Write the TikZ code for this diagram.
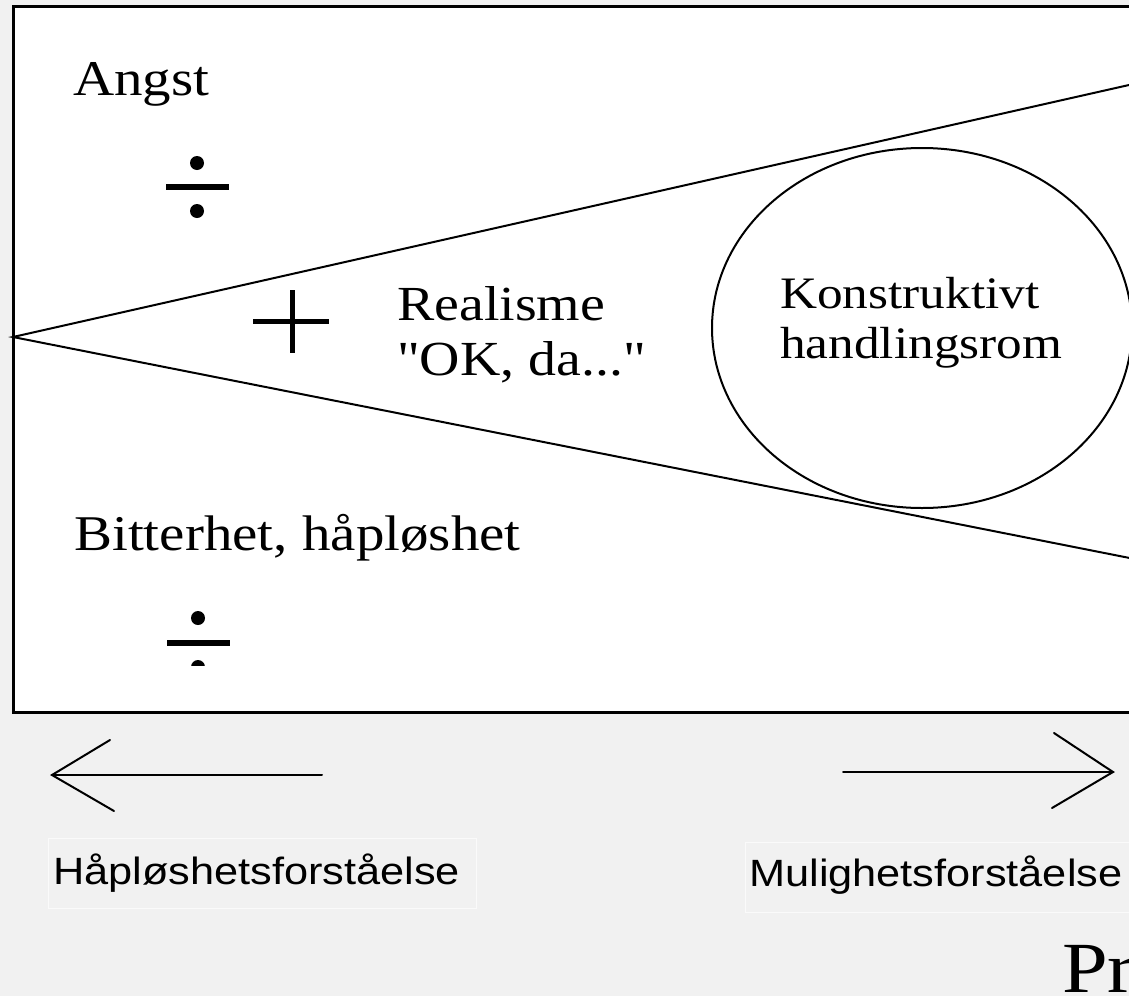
\documentclass[tikz,border=0pt]{standalone}
\usepackage{fontspec}
\usetikzlibrary{shapes.geometric}
\setmainfont{Liberation Serif}
\newfontfamily\wideserif[FakeStretch=1.14]{Liberation Serif}
\newfontfamily\widesans[FakeStretch=1.14]{Liberation Sans}
\definecolor{pagebg}{RGB}{241,241,241}
\definecolor{labelrim}{RGB}{250,250,250}
\tikzset{
  serif/.style={inner sep=0pt, anchor=base west, font=\wideserif\fontsize{#1}{#1}\selectfont},
  twoline/.style 2 args={inner sep=0pt, anchor=base west, align=left,
    font=\wideserif\fontsize{#1}{#2}\selectfont},
  sanslabel/.style={inner sep=0pt, anchor=base west, font=\widesans\fontsize{38}{38}\selectfont},
  labelbox/.style={draw=labelrim, line width=0.8pt, fill=pagebg},
  thin/.style={line width=2pt},
  pointer/.style={line width=2pt, line cap=round},
}
\begin{document}
\begin{tikzpicture}[x=1pt, y=-1pt]
  \useasboundingbox (0,0) rectangle (1129,996);
  \clip (0,0) rectangle (1129,996);
  \fill[pagebg] (0,0) rectangle (1129,996);

  % frame
  \draw[fill=white, line width=3pt] (13,6) rectangle (1160,712);

  % the fan opening to the right
  \coordinate (apex) at (13,337);
  \coordinate (upperend) at (1160,78);
  \coordinate (lowerend) at (1160,564);
  \draw[thin] (upperend) -- (apex) -- (lowerend);

  % space for action
  \node[draw, thin, ellipse, minimum width=420pt, minimum height=360pt, inner sep=0pt] (space) at (922,328) {};
  % multi-line nodes sit on the baseline of their last line
  \node[twoline={45}{50}] (konstr) at (780,358) {Konstruktivt\\handlingsrom};

  % labels
  \node[serif=50] (angst) at (73,95) {Angst};
  \node[serif=50] (bitter) at (74,550) {Bitterhet, håpløshet};
  \node[twoline={49}{55}] (real) at (397,375) {Realisme\\"OK, da..."};

  % minus signs
  \fill (166,184) rectangle (229,190);
  \fill (197,163) circle (7);
  \fill (197,211) circle (7);
  \begin{scope}
    \clip (150,600) rectangle (250,665);
    \fill (167,640) rectangle (230,646);
    \fill (198,618) circle (7);
    \fill (198,667) circle (7);
  \end{scope}

  % plus sign
  \fill (253,319) rectangle (329,323.5);
  \fill (289.5,290) rectangle (294.5,353);

  % direction arrows
  \coordinate (ltail) at (322,775);
  \coordinate (lhead) at (52,775);
  \coordinate (lup) at (110,740);
  \coordinate (llow) at (114,811);
  \draw[pointer] (ltail) -- (lhead);
  \draw[pointer] (lup) -- (lhead) -- (llow);

  \coordinate (rtail) at (843,772);
  \coordinate (rhead) at (1113,772);
  \coordinate (rup) at (1054,733);
  \coordinate (rlow) at (1052,808);
  \draw[pointer] (rtail) -- (rhead);
  \draw[pointer] (rup) -- (rhead) -- (rlow);

  % arrow captions
  \draw[labelbox] (48,838) rectangle (476,908);
  \node[sanslabel] (hopeless) at (53,884) {Håpløshetsforståelse};
  \draw[labelbox] (745,842) rectangle (1160,912);
  \node[sanslabel] (possible) at (749,886) {Mulighetsforståelse};

  % title, running off the right edge
  \node[serif=72] (title) at (1062,992) {Pr};
\end{tikzpicture}
\end{document}
